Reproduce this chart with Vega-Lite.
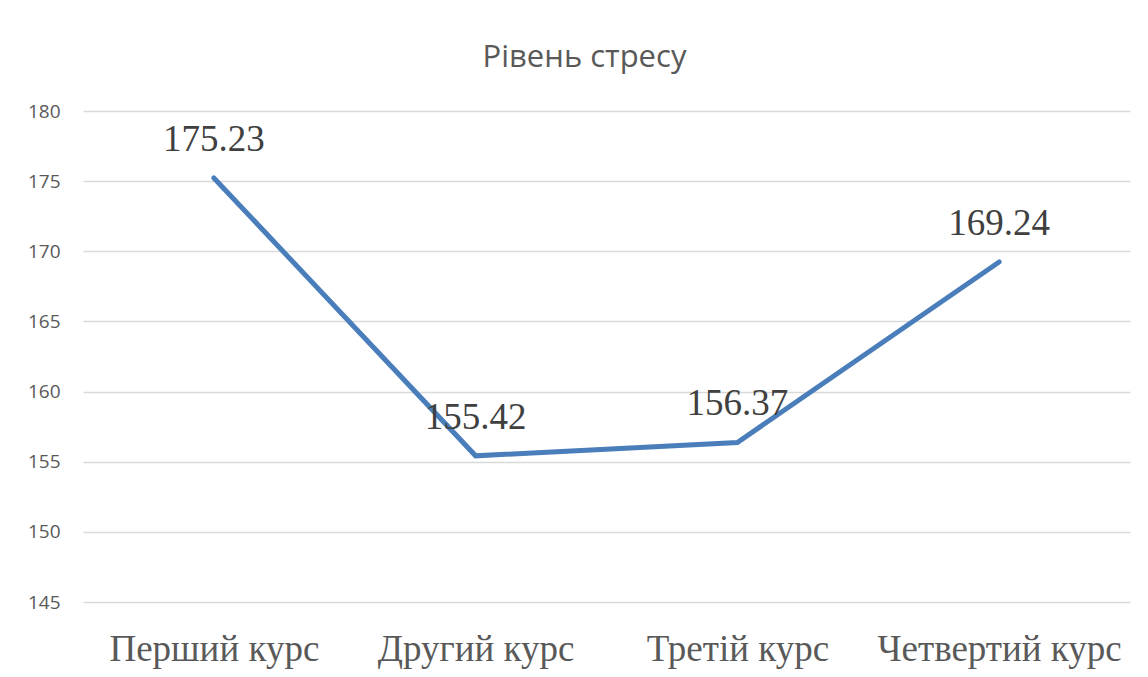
{
  "$schema": "https://vega.github.io/schema/vega-lite/v6.json",
  "autosize": {"type": "none"},
  "width": 1047,
  "height": 491,
  "padding": {"left": 83, "top": 111, "right": 18, "bottom": 75},
  "background": "white",
  "title": {
    "text": "Рівень стресу",
    "font": "Open Sans",
    "fontSize": 31,
    "fontWeight": "normal",
    "color": "#595959",
    "anchor": "middle",
    "dx": -22,
    "offset": 28
  },
  "data": {
    "values": [
      {"course": "Перший курс", "stress": 175.23},
      {"course": "Другий курс", "stress": 155.42},
      {"course": "Третій курс", "stress": 156.37},
      {"course": "Четвертий курс", "stress": 169.24}
    ]
  },
  "encoding": {
    "x": {
      "field": "course",
      "type": "nominal",
      "sort": null,
      "scale": {"paddingInner": 0, "paddingOuter": 0},
      "axis": {
        "title": null,
        "labelAngle": 0,
        "domain": false,
        "ticks": false,
        "labelFont": "Liberation Serif",
        "labelFontSize": 37,
        "labelColor": "#595959",
        "labelPadding": 29,
        "labelLimit": 0,
        "labelOverlap": false,
        "grid": false
      }
    },
    "y": {
      "field": "stress",
      "type": "quantitative",
      "scale": {"domain": [145, 180], "zero": false, "nice": false},
      "axis": {
        "title": null,
        "values": [145, 150, 155, 160, 165, 170, 175, 180],
        "domain": false,
        "ticks": false,
        "labelFont": "Open Sans",
        "labelFontSize": 19,
        "labelColor": "#595959",
        "labelPadding": 23,
        "gridColor": "#d9d9d9",
        "gridWidth": 1.5
      }
    }
  },
  "layer": [
    {
      "mark": {"type": "line", "color": "#4a7ebb", "strokeWidth": 5, "strokeCap": "round", "strokeJoin": "miter"}
    },
    {
      "mark": {
        "type": "text",
        "font": "Liberation Serif",
        "fontSize": 37,
        "color": "#404040",
        "baseline": "alphabetic",
        "dy": -27
      },
      "encoding": {"text": {"field": "stress", "type": "quantitative", "format": ".2f"}}
    }
  ],
  "config": {"view": {"stroke": null}}
}
